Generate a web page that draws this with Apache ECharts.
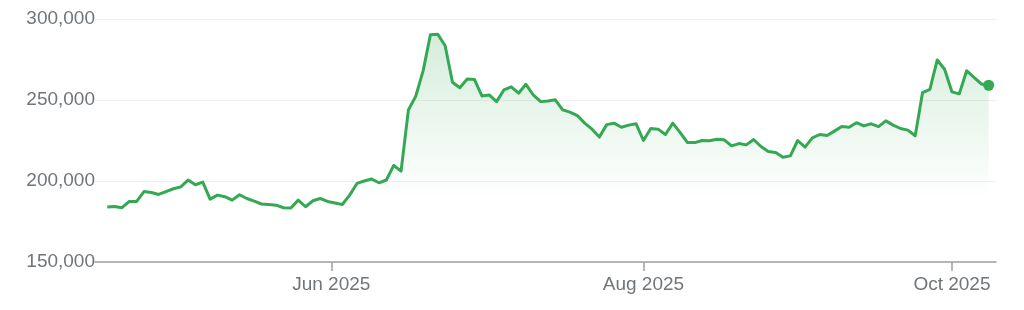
<!DOCTYPE html>
<html>
<head>
<meta charset="utf-8">
<script src="https://cdn.jsdelivr.net/npm/echarts@6/dist/echarts.min.js"></script>
<style>
  html, body { margin: 0; padding: 0; background: #ffffff; }
  #chart { width: 1024px; height: 310px; }
</style>
</head>
<body>
<div id="chart"></div>
<script>
// Trading days (US market calendar) from 2025-04-16 to 2025-10-08
const firstDay = '2025-04-16';
const lastDay = '2025-10-08';
const holidays = ['2025-04-18', '2025-05-26', '2025-06-19', '2025-07-04', '2025-09-01'];

// Closing values, one per trading day
const prices = [
  183900, 184300, 183500, 187400, 187400, 193500, 192900, 191700, 193500, 195200,
  196400, 200600, 197700, 199300, 188800, 191300, 190300, 188200, 191500, 189200,
  187600, 185800, 185500, 185100, 183500, 183300, 188200, 184100, 187800, 189200,
  187400, 186400, 185500, 191300, 198500, 200000, 201200, 198900, 200600, 209600,
  206100, 243900, 252300, 268000, 290300, 290600, 283500, 261000, 257600, 263000,
  262600, 252500, 253100, 249000, 256200, 258100, 254200, 259700, 253100, 249000,
  249400, 250100, 243900, 242500, 240400, 235700, 232000, 227100, 234800, 235700,
  233200, 234500, 235300, 225000, 232400, 232000, 228700, 235700, 229900, 223700,
  223700, 225000, 224800, 225800, 225400, 221700, 223100, 222300, 225600, 221300,
  218200, 217600, 214700, 215500, 225000, 220900, 226600, 228700, 228100, 230800,
  233600, 233200, 236000, 234000, 235300, 233600, 237100, 234500, 232400, 231400,
  227900, 254600, 256600, 274700, 269000, 255000, 253800, 268100, 264000, 259900,
  259100
];

// X-axis month ticks (calendar dates) and their labels
const tickDates = ['2025-06-01', '2025-08-01', '2025-10-01'];
const tickLabels = ['Jun 2025', 'Aug 2025', 'Oct 2025'];

// Y-axis ticks
const yTicks = [150000, 200000, 250000, 300000];

function fmt(d) {
  const m = String(d.getUTCMonth() + 1).padStart(2, '0');
  const dd = String(d.getUTCDate()).padStart(2, '0');
  return d.getUTCFullYear() + '-' + m + '-' + dd;
}
const dates = [];
for (let d = new Date(firstDay + 'T00:00:00Z'); fmt(d) <= lastDay; d.setUTCDate(d.getUTCDate() + 1)) {
  const wd = d.getUTCDay();
  const s = fmt(d);
  if (wd !== 0 && wd !== 6 && holidays.indexOf(s) < 0) dates.push(s);
}

// tick position in trading-day index space
const tickPos = tickDates.map(function (t) {
  let i = dates.findIndex(function (d) { return d >= t; });
  return dates[i] === t ? i : i - 0.5;
});
const labelByPos = {};
tickPos.forEach(function (p, k) { labelByPos[p] = tickLabels[k]; });

const lineData = prices.map(function (v, i) { return [i, v]; });
const lastPoint = [prices.length - 1, prices[prices.length - 1]];

const green = '#34a853';
const gray = '#70757a';
const font = '"Liberation Sans", Arial, sans-serif';

const chart = echarts.init(document.getElementById('chart'), null, { renderer: 'canvas' });
chart.setOption({
  animation: false,
  backgroundColor: '#ffffff',
  grid: { left: 95, right: 28, top: 19, bottom: 48, containLabel: false },
  xAxis: {
    type: 'value',
    min: -1.67,
    max: prices.length,
    splitLine: { show: false },
    axisLine: { show: true, lineStyle: { color: '#9aa0a6', width: 1.5 } },
    axisTick: {
      show: true, customValues: tickPos, length: 9,
      lineStyle: { color: '#9aa0a6', width: 1.5 }
    },
    axisLabel: {
      customValues: tickPos,
      formatter: function (v) { return labelByPos[v] || ''; },
      color: gray, fontSize: 19, fontFamily: font, margin: 13
    }
  },
  yAxis: {
    type: 'value',
    min: yTicks[0],
    max: yTicks[yTicks.length - 1],
    interval: yTicks[1] - yTicks[0],
    axisLine: { show: false },
    axisTick: { show: false },
    splitLine: { show: true, lineStyle: { color: '#f1f1f1', width: 1 } },
    axisLabel: { color: gray, fontSize: 19, fontFamily: font, margin: 0 }
  },
  series: [
    {
      type: 'line',
      data: lineData,
      showSymbol: false,
      symbol: 'none',
      lineStyle: { color: green, width: 3, join: 'round' },
      areaStyle: {
        origin: 'start',
        color: {
          type: 'linear', x: 0, y: 19, x2: 0, y2: 200, global: true,
          colorStops: [
            { offset: 0, color: 'rgba(52,168,83,0.32)' },
            { offset: 1, color: 'rgba(52,168,83,0)' }
          ]
        }
      },
      z: 2
    },
    {
      type: 'scatter',
      data: [lastPoint],
      symbol: 'circle',
      symbolSize: 11,
      itemStyle: { color: green, opacity: 1 },
      z: 3
    }
  ]
});
</script>
</body>
</html>
